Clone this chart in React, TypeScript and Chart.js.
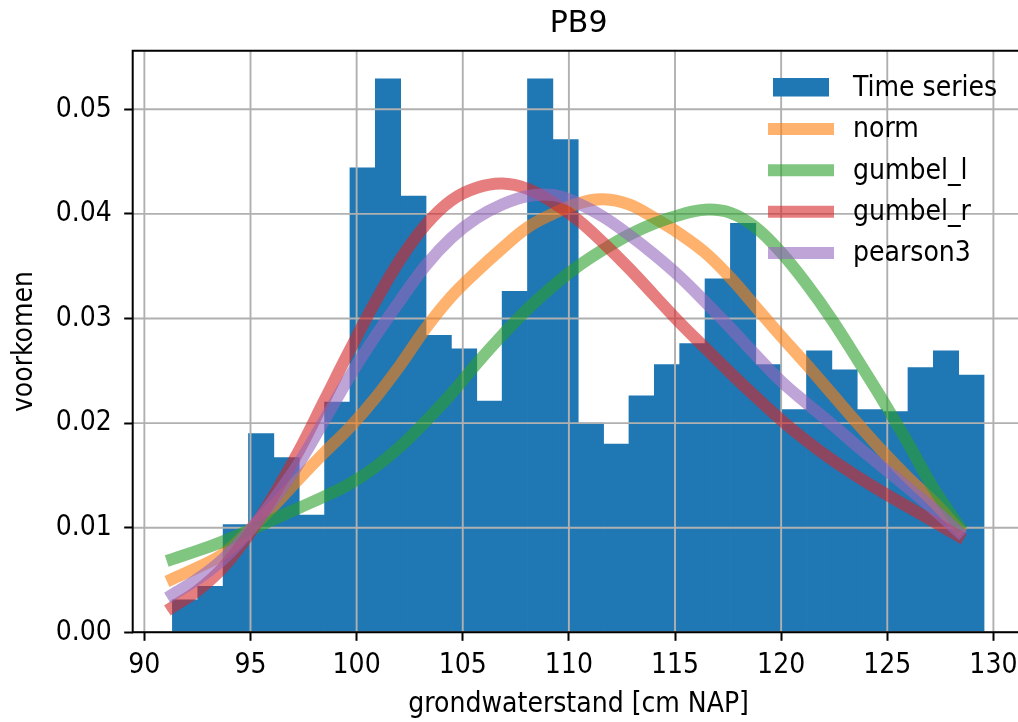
import React, { useEffect, useRef } from 'react';
import { Chart, registerables } from 'chart.js';

Chart.register(...registerables);

// ---- data ----
const binEdges = [
  91.32, 92.515, 93.71, 94.905, 96.1, 97.295, 98.49, 99.685, 100.88, 102.075,
  103.27, 104.465, 105.66, 106.855, 108.05, 109.245, 110.44, 111.635, 112.83, 114.025,
  115.22, 116.415, 117.61, 118.805, 120.0, 121.195, 122.39, 123.585, 124.78, 125.975,
  127.17, 128.365, 129.56,
];
const density = [
  0.0031, 0.0044, 0.0103, 0.019, 0.0167, 0.0112, 0.022, 0.0444, 0.0529, 0.0417,
  0.0284, 0.0271, 0.0221, 0.0326, 0.0529, 0.0471, 0.02, 0.018, 0.0226, 0.0256,
  0.0276, 0.0338, 0.0391, 0.0256, 0.0213, 0.0269, 0.0251, 0.0213, 0.0211, 0.0253,
  0.0269, 0.0246,
];
const curveX = binEdges.slice(0, -1);
const normPdf = [
  0.0051, 0.0062, 0.0075, 0.0097, 0.0121, 0.0147, 0.0172, 0.0196, 0.0224, 0.0256,
  0.0291, 0.0321, 0.0345, 0.0367, 0.0387, 0.04, 0.041, 0.0414, 0.0409, 0.0396,
  0.0381, 0.0363, 0.0339, 0.0311, 0.0283, 0.0256, 0.0228, 0.02, 0.0173, 0.0148,
  0.0125, 0.0099,
];
const gumbelLPdf = [
  0.007, 0.0078, 0.0087, 0.0097, 0.0108, 0.0119, 0.013, 0.0142, 0.0158, 0.0178,
  0.0202, 0.0228, 0.0257, 0.0284, 0.0309, 0.0331, 0.035, 0.0366, 0.038, 0.0391,
  0.0399, 0.0404, 0.0401, 0.0387, 0.0363, 0.0333, 0.0299, 0.0261, 0.0222, 0.0181,
  0.0138, 0.0102,
];
const gumbelRPdf = [
  0.0024, 0.004, 0.0062, 0.0093, 0.0131, 0.0174, 0.0222, 0.027, 0.0316, 0.0357,
  0.039, 0.0413, 0.0425, 0.0429, 0.0424, 0.0411, 0.0394, 0.0372, 0.0348, 0.0322,
  0.0296, 0.0272, 0.0248, 0.0225, 0.0203, 0.0183, 0.0165, 0.0149, 0.0134, 0.012,
  0.0106, 0.0092,
];
const pearson3Pdf = [
  0.0036, 0.0051, 0.007, 0.0096, 0.0127, 0.0162, 0.0203, 0.0245, 0.0283, 0.0318,
  0.0351, 0.0377, 0.0396, 0.0409, 0.0417, 0.0418, 0.041, 0.0397, 0.038, 0.0361,
  0.034, 0.0316, 0.0291, 0.0265, 0.024, 0.0219, 0.0199, 0.0178, 0.0158, 0.0138,
  0.0118, 0.0096,
];
const xTickValues = [90, 95, 100, 105, 110, 115, 120, 125, 130];
const yTickValues = [0, 0.01, 0.02, 0.03, 0.04, 0.05];
const seriesLabels = ['Time series', 'norm', 'gumbel_l', 'gumbel_r', 'pearson3'];

const LABEL_FAMILY = "'DejaVu Sans Condensed', 'DejaVu Sans', sans-serif";
const TITLE_FAMILY = "'DejaVu Sans', sans-serif";

const gridAbovePlugin = {
  id: 'gridAbove',
  afterDatasetDraw(chart: any, args: any) {
    if (args.index !== 0) return;
    const { ctx, chartArea: a, scales } = chart;
    ctx.save();
    ctx.beginPath();
    ctx.rect(a.left, a.top, a.right - a.left, a.bottom - a.top);
    ctx.clip();
    ctx.strokeStyle = '#b0b0b0';
    ctx.lineWidth = 1.9;
    for (const t of scales.x.ticks) {
      const px = scales.x.getPixelForValue(t.value);
      ctx.beginPath();
      ctx.moveTo(px, a.top);
      ctx.lineTo(px, a.bottom);
      ctx.stroke();
    }
    for (const t of scales.y.ticks) {
      const py = scales.y.getPixelForValue(t.value);
      ctx.beginPath();
      ctx.moveTo(a.left, py);
      ctx.lineTo(a.right, py);
      ctx.stroke();
    }
    ctx.restore();
  },
};

const spinesPlugin = {
  id: 'spines',
  afterDatasetsDraw(chart: any) {
    const { ctx, chartArea: a } = chart;
    ctx.save();
    ctx.strokeStyle = '#000';
    ctx.lineWidth = 2;
    ctx.lineCap = 'square';
    ctx.beginPath();
    ctx.moveTo(a.left, a.bottom);
    ctx.lineTo(a.left, a.top);
    ctx.lineTo(a.right, a.top);
    ctx.lineTo(a.right, a.bottom);
    ctx.lineTo(a.left, a.bottom);
    ctx.stroke();
    ctx.restore();
  },
};

const legendPlugin = {
  id: 'histLegend',
  afterDraw(chart: any) {
    const { ctx } = chart;
    const ds = chart.data.datasets;
    const handleLeft = 768;
    const handleRight = 834;
    const textX = 853;
    const firstRowY = 87.5;
    const rowGap = 41.4;
    ctx.save();
    ctx.font = `28px ${LABEL_FAMILY}`;
    ctx.textBaseline = 'middle';
    ctx.textAlign = 'left';
    ds.forEach((d: any, i: number) => {
      const y = firstRowY + i * rowGap;
      if (d.type === 'bar') {
        ctx.fillStyle = d.backgroundColor;
        ctx.fillRect(handleLeft + 5, y - 9.5, handleRight - handleLeft - 10, 18.5);
      } else {
        ctx.strokeStyle = d.borderColor;
        ctx.lineWidth = 12;
        ctx.lineCap = 'butt';
        ctx.beginPath();
        ctx.moveTo(handleLeft, y);
        ctx.lineTo(handleRight, y);
        ctx.stroke();
      }
      ctx.fillStyle = '#000';
      ctx.fillText(d.label, textX, y + 1);
    });
    ctx.restore();
  },
};

function lineDataset(label: string, values: number[], color: string, order: number) {
  return {
    type: 'line' as const,
    label,
    data: curveX.map((x, i) => ({ x, y: values[i] })),
    borderColor: color,
    backgroundColor: color,
    borderWidth: 12,
    borderCapStyle: 'square' as const,
    borderJoinStyle: 'round' as const,
    pointRadius: 0,
    tension: 0.4,
    fill: false,
    order,
  };
}

export default function App() {
  const canvasRef = useRef<HTMLCanvasElement | null>(null);

  useEffect(() => {
    const canvas = canvasRef.current;
    if (!canvas) return;
    const chart = new Chart(canvas, {
      data: {
        datasets: [
          {
            type: 'bar',
            label: seriesLabels[0],
            data: density.map((v, i) => ({ x: (binEdges[i] + binEdges[i + 1]) / 2, y: v })),
            backgroundColor: '#1f77b4',
            borderWidth: 0,
            barPercentage: 1,
            categoryPercentage: 1,
            order: 10,
          } as any,
          lineDataset(seriesLabels[1], normPdf, 'rgba(255,127,14,0.6)', 4),
          lineDataset(seriesLabels[2], gumbelLPdf, 'rgba(44,160,44,0.6)', 3),
          lineDataset(seriesLabels[3], gumbelRPdf, 'rgba(214,39,40,0.6)', 2),
          lineDataset(seriesLabels[4], pearson3Pdf, 'rgba(148,103,189,0.6)', 1),
        ],
      },
      options: {
        animation: false,
        responsive: false,
        devicePixelRatio: 1,
        events: [],
        layout: { padding: { left: 0, right: 15.4, top: 0, bottom: 0 } },
        scales: {
          x: {
            type: 'linear',
            min: 89.45,
            max: 131.47,
            offset: false,
            afterBuildTicks: (scale: any) => {
              scale.ticks = xTickValues.map((v) => ({ value: v }));
            },
            afterFit: (scale: any) => {
              scale.height = 89.7;
            },
            ticks: {
              autoSkip: false,
              maxRotation: 0,
              color: '#000',
              padding: 7.9,
              font: { family: LABEL_FAMILY, size: 28 },
              callback: (v: any) => String(v),
            },
            grid: {
              offset: false,
              drawOnChartArea: false,
              drawTicks: true,
              tickLength: 8.5,
              tickColor: '#000',
              tickWidth: 2,
            },
            border: { display: false },
            title: {
              display: true,
              text: 'grondwaterstand [cm NAP]',
              color: '#000',
              font: { family: LABEL_FAMILY, size: 28 },
              padding: { top: 5.2, bottom: 0 },
            },
          },
          y: {
            type: 'linear',
            min: 0,
            max: 0.0556,
            afterBuildTicks: (scale: any) => {
              scale.ticks = yTickValues.map((v) => ({ value: v }));
            },
            afterFit: (scale: any) => {
              scale.width = 132.7;
            },
            ticks: {
              color: '#000',
              padding: 12.5,
              font: { family: LABEL_FAMILY, size: 28 },
              callback: (v: any) => Number(v).toFixed(2),
            },
            grid: {
              drawOnChartArea: false,
              drawTicks: true,
              tickLength: 8.5,
              tickColor: '#000',
              tickWidth: 2,
            },
            border: { display: false },
            title: {
              display: true,
              text: 'voorkomen',
              color: '#000',
              font: { family: LABEL_FAMILY, size: 28 },
              padding: { top: 7.8, bottom: 0 },
            },
          },
        },
        plugins: {
          legend: { display: false },
          tooltip: { enabled: false },
          title: {
            display: true,
            text: 'PB9',
            color: '#000',
            fullSize: false,
            font: { family: TITLE_FAMILY, size: 30, weight: 'normal' },
            padding: { top: 6.5, bottom: 8.2 },
          },
        },
      } as any,
      plugins: [gridAbovePlugin, spinesPlugin, legendPlugin],
    });
    return () => chart.destroy();
  }, []);

  return (
    <div
      style={{
        position: 'fixed',
        left: 0,
        top: 0,
        width: 1018,
        height: 722,
        overflow: 'hidden',
        background: '#fff',
      }}
    >
      <canvas ref={canvasRef} width={1040} height={722} style={{ display: 'block' }} />
    </div>
  );
}
